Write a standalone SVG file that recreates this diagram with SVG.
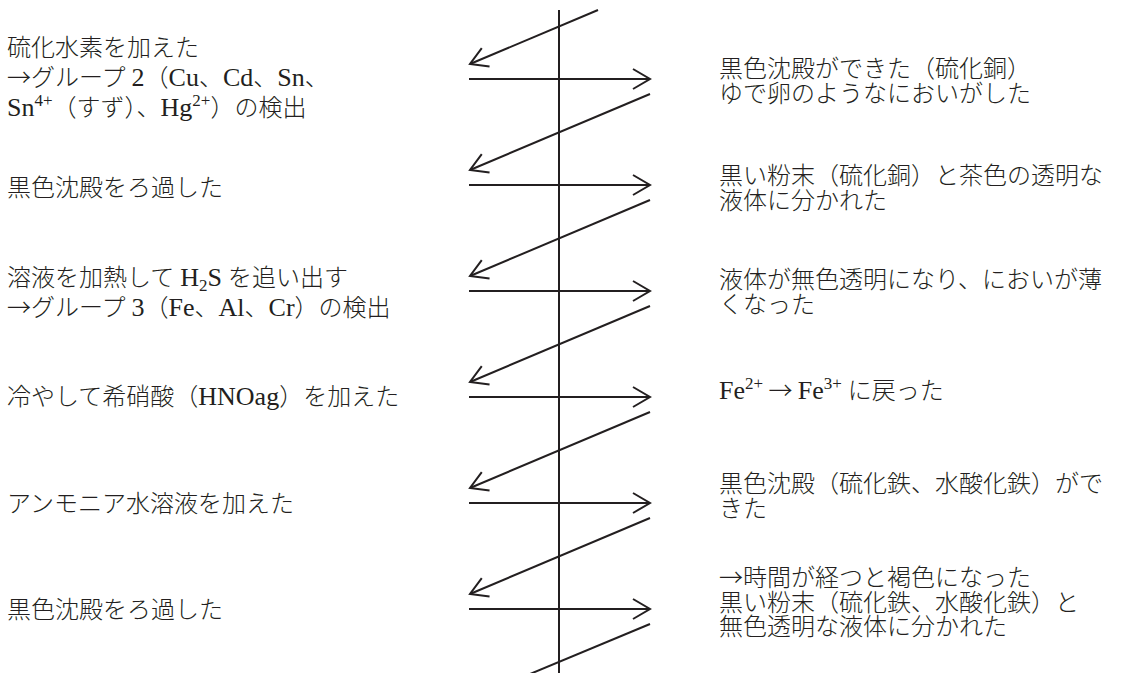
<svg xmlns="http://www.w3.org/2000/svg" width="1121" height="673" viewBox="0 0 1121 673">
<style>
.t{font-family:"Liberation Serif","Noto Sans CJK JP",serif;font-size:24px;font-weight:300;fill:#231f20}
.l{font-size:26px}
.sup{font-size:17px}
.a{font-family:"Noto Sans CJK JP",sans-serif}
.ln{fill:none;stroke:#231f20;stroke-width:2}
.ar{marker-end:url(#ah)}
</style>
<defs>
<marker id="ah" markerUnits="userSpaceOnUse" markerWidth="24" markerHeight="24" viewBox="-20 -12 24 24" refX="0" refY="0" orient="auto" overflow="visible">
<path d="M-17,-10 L0,0 L-17,10" fill="none" stroke="#231f20" stroke-width="2"/>
</marker>
</defs>
<rect width="1121" height="673" fill="#ffffff"/>
<g id="connectors">
<path class="ln" d="M559,10 V673"/>
<path class="ln ar" d="M598,10 L470,64"/>
<path class="ln ar" d="M469,79 H650"/>
<path class="ln ar" d="M650,94 L470,170"/>
<path class="ln ar" d="M469,185 H650"/>
<path class="ln ar" d="M650,200 L470,276"/>
<path class="ln ar" d="M469,291 H650"/>
<path class="ln ar" d="M650,306 L470,382"/>
<path class="ln ar" d="M469,397 H650"/>
<path class="ln ar" d="M650,412 L470,488"/>
<path class="ln ar" d="M469,503 H650"/>
<path class="ln ar" d="M650,518 L470,594"/>
<path class="ln ar" d="M469,609 H650"/>
<path class="ln" d="M650,624 L530,674"/>
</g>
<g id="step1">
<text class="t" x="7" y="56">硫化水素を加えた</text>
<text class="t" x="7" y="86"><tspan class="a">→</tspan>グループ <tspan class="l">2</tspan>（<tspan class="l">Cu</tspan>、<tspan class="l">Cd</tspan>、<tspan class="l">Sn</tspan>、</text>
<text class="t" x="7" y="116"><tspan class="l">Sn</tspan><tspan class="sup" dy="-10">4+</tspan><tspan dy="10">（すず）、</tspan><tspan class="l">Hg</tspan><tspan class="sup" dy="-10">2+</tspan><tspan dy="10">）の検出</tspan></text>
</g>
<g id="step2"><text class="t" x="7" y="196">黒色沈殿をろ過した</text></g>
<g id="step3">
<text class="t" x="7" y="286">溶液を加熱して <tspan class="l">H</tspan><tspan class="sup" dy="5">2</tspan><tspan class="l" dy="-5">S</tspan> を追い出す</text>
<text class="t" x="7" y="316"><tspan class="a">→</tspan>グループ <tspan class="l">3</tspan>（<tspan class="l">Fe</tspan>、<tspan class="l">Al</tspan>、<tspan class="l">Cr</tspan>）の検出</text>
</g>
<g id="step4"><text class="t" x="7" y="405">冷やして希硝酸（<tspan class="l">HNOag</tspan>）を加えた</text></g>
<g id="step5"><text class="t" x="7" y="512">アンモニア水溶液を加えた</text></g>
<g id="step6"><text class="t" x="7" y="618">黒色沈殿をろ過した</text></g>
<g id="result1">
<text class="t" x="719" y="77">黒色沈殿ができた（硫化銅）</text>
<text class="t" x="719" y="102">ゆで卵のようなにおいがした</text>
</g>
<g id="result2">
<text class="t" x="719" y="184">黒い粉末（硫化銅）と茶色の透明な</text>
<text class="t" x="719" y="209">液体に分かれた</text>
</g>
<g id="result3">
<text class="t" x="719" y="288">液体が無色透明になり、においが薄</text>
<text class="t" x="719" y="313">くなった</text>
</g>
<g id="result4">
<text class="t" x="719" y="399"><tspan class="l">Fe</tspan><tspan class="sup" dy="-10">2+</tspan><tspan class="a" dy="10"> → </tspan><tspan class="l">Fe</tspan><tspan class="sup" dy="-10">3+</tspan><tspan dy="10"> に戻った</tspan></text>
</g>
<g id="result5">
<text class="t" x="719" y="492">黒色沈殿（硫化鉄、水酸化鉄）がで</text>
<text class="t" x="719" y="517">きた</text>
</g>
<g id="result6">
<text class="t" x="719" y="586"><tspan class="a">→</tspan>時間が経つと褐色になった</text>
<text class="t" x="719" y="611">黒い粉末（硫化鉄、水酸化鉄）と</text>
<text class="t" x="719" y="635">無色透明な液体に分かれた</text>
</g>
</svg>
